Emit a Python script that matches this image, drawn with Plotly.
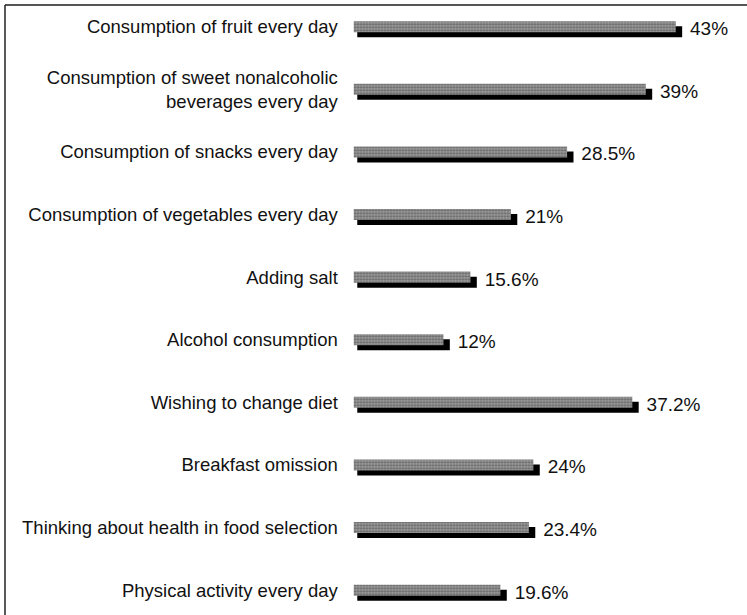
import plotly.graph_objects as go

# data (top to bottom)
labels = [
    'Consumption of fruit every day',
    'Consumption of sweet nonalcoholic<br>beverages every day',
    'Consumption of snacks every day',
    'Consumption of vegetables every day',
    'Adding salt',
    'Alcohol consumption',
    'Wishing to change diet',
    'Breakfast omission',
    'Thinking about health in food selection',
    'Physical activity every day',
]
values = [43, 39, 28.5, 21, 15.6, 12, 37.2, 24, 23.4, 19.6]
value_text = ['43%', '39%', '28.5%', '21%', '15.6%', '12%', '37.2%', '24%', '23.4%', '19.6%']

rows = list(range(len(labels)))
font_family = 'Liberation Sans, Arial, Helvetica, sans-serif'

fig = go.Figure()

# black "shadow" behind each bar, shifted a bit right and down
fig.add_trace(go.Bar(
    y=rows,
    x=[v + 0.35 for v in values],
    base=0.5,
    orientation='h',
    width=0.176,
    offset=-0.008,
    marker=dict(color='black', line=dict(width=0)),
    hoverinfo='skip',
    showlegend=False,
))

# stippled grey face
fig.add_trace(go.Bar(
    y=rows,
    x=values,
    orientation='h',
    width=0.176,
    offset=-0.088,
    marker=dict(
        color='#8a8a8a',
        line=dict(width=0),
        pattern=dict(shape='.', fgcolor='#2e2e2e', bgcolor='#9e9e9e', size=3, solidity=0.45),
    ),
    showlegend=False,
))

# percentage labels at the end of each bar
fig.add_trace(go.Scatter(
    y=[r + 0.06 for r in rows],
    x=[v + 1.9 for v in values],
    mode='text',
    text=value_text,
    textposition='middle right',
    textfont=dict(size=19, color='#111', family=font_family),
    cliponaxis=False,
    hoverinfo='skip',
    showlegend=False,
))

fig.update_layout(
    width=747,
    height=615,
    margin=dict(l=5, r=0, t=5, b=0),
    paper_bgcolor='white',
    plot_bgcolor='white',
    font=dict(family=font_family, color='#111'),
    barmode='overlay',
    xaxis=dict(
        domain=[0.4697, 1],
        range=[0, 52.5],
        showgrid=False,
        zeroline=False,
        showticklabels=False,
        showline=False,
    ),
    yaxis=dict(
        range=[9.397, -0.347],
        tickvals=rows,
        ticktext=labels,
        tickfont=dict(size=18.5),
        ticks='outside',
        ticklen=11,
        tickcolor='rgba(0,0,0,0)',
        showgrid=False,
        zeroline=False,
        showline=False,
        automargin=False,
    ),
    shapes=[
        dict(type='line', xref='paper', yref='paper', x0=0, x1=1, y0=1, y1=1,
             line=dict(color='#555', width=2)),
        dict(type='line', xref='paper', yref='paper', x0=0, x1=0, y0=0, y1=1,
             line=dict(color='#222', width=1.5)),
    ],
)

fig.write_html("out.html", config={'displayModeBar': False},
               post_script="document.body.style.margin='0';")
